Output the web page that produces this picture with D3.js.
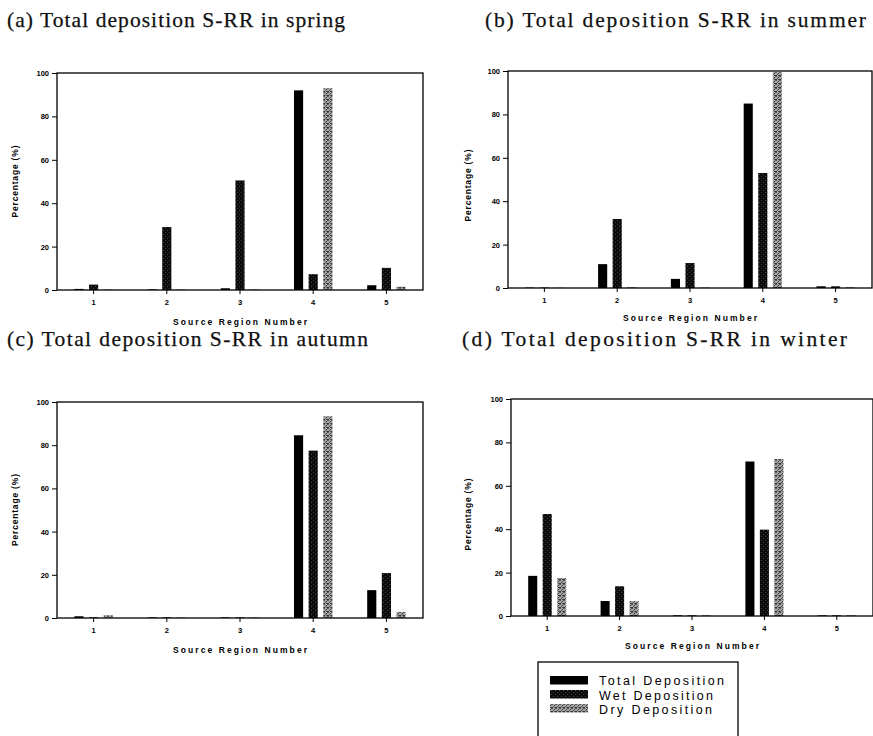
<!DOCTYPE html>
<html>
<head>
<meta charset="utf-8">
<script src="https://cdn.jsdelivr.net/npm/d3@7"></script>
<style>
  html, body { margin: 0; padding: 0; background: #fff; }
  svg { display: block; }
</style>
</head>
<body>
<svg width="873" height="736"></svg>
<script>
// categories and series
var regions = ['1', '2', '3', '4', '5'];
var seriesNames = ['Total Deposition', 'Wet Deposition', 'Dry Deposition'];
var yTicks = [0, 20, 40, 60, 80, 100];

// values (%)
var springTotal = [0.5, 0.3, 0.8, 92, 2.2];
var springWet   = [2.5, 29, 50.5, 7.3, 10.2];
var springDry   = [0.3, 0.3, 0.3, 93, 1.5];

var summerTotal = [0.2, 11, 4.2, 85, 0.8];
var summerWet   = [0.2, 31.8, 11.5, 53, 0.8];
var summerDry   = [0.1, 0.3, 0.2, 99.5, 0.3];

var autumnTotal = [0.8, 0.3, 0.3, 84.6, 12.9];
var autumnWet   = [0.3, 0.3, 0.3, 77.5, 20.8];
var autumnDry   = [1.2, 0.3, 0.3, 93.4, 2.8];

var winterTotal = [18.5, 6.9, 0.3, 71.2, 0.3];
var winterWet   = [47, 13.7, 0.3, 39.8, 0.3];
var winterDry   = [17.5, 6.9, 0.3, 72.3, 0.3];

var svg = d3.select('svg');

// textured fills, like the scanned print
var defs = svg.append('defs');
var pw = defs.append('pattern').attr('id', 'wetFill').attr('width', 4).attr('height', 4)
  .attr('patternUnits', 'userSpaceOnUse');
pw.append('rect').attr('width', 4).attr('height', 4).attr('fill', '#0c0c0c');
pw.append('rect').attr('x', 1).attr('y', 0).attr('width', 1).attr('height', 1).attr('fill', '#3c3c3c');
pw.append('rect').attr('x', 3).attr('y', 2).attr('width', 1).attr('height', 1).attr('fill', '#444');

var pd = defs.append('pattern').attr('id', 'dryFill').attr('width', 4).attr('height', 4)
  .attr('patternUnits', 'userSpaceOnUse');
pd.append('rect').attr('width', 4).attr('height', 4).attr('fill', '#a6a6a6');
[[0,0],[2,1],[1,2],[3,3],[3,0],[0,3],[2,3]].forEach(function(p, i) {
  pd.append('rect').attr('x', p[0]).attr('y', p[1]).attr('width', 1).attr('height', 1)
    .attr('fill', i % 2 ? '#333' : '#5a5a5a');
});

var fills = ['#000', 'url(#wetFill)', 'url(#dryFill)'];

var panels = [
  { title: '(a) Total deposition S-RR in spring', tx: 7, ty: 27, tw: 338,
    box: [57, 73, 423, 290], xlabY: 325, ylabX: 15, ylabDy: 0,
    data: [springTotal, springWet, springDry] },
  { title: '(b) Total deposition S-RR in summer', tx: 485, ty: 27, tw: 381,
    box: [508, 71, 872, 288], xlabY: 321, ylabX: 468, ylabDy: 6,
    data: [summerTotal, summerWet, summerDry] },
  { title: '(c) Total deposition S-RR in autumn', tx: 7, ty: 346, tw: 361,
    box: [57, 402, 423, 618], xlabY: 653, ylabX: 15, ylabDy: 0,
    data: [autumnTotal, autumnWet, autumnDry] },
  { title: '(d) Total deposition S-RR in winter', tx: 462, ty: 346, tw: 385,
    box: [511, 399, 873, 616], xlabY: 649, ylabX: 468, ylabDy: 7,
    data: [winterTotal, winterWet, winterDry] }
];

panels.forEach(function(p) {
  var x0 = p.box[0], y0 = p.box[1], x1 = p.box[2], y1 = p.box[3];

  svg.append('text').attr('x', p.tx).attr('y', p.ty)
    .attr('font-family', 'Liberation Serif, DejaVu Serif, serif').attr('font-size', 21.5)
    .attr('textLength', p.tw).attr('lengthAdjust', 'spacing')
    .attr('stroke', '#111').attr('stroke-width', 0.25)
    .attr('fill', '#111').text(p.title);

  var x = d3.scaleBand().domain(regions).range([x0, x1]).padding(0);
  var off = d3.scalePoint().domain(seriesNames).range([-0.2 * x.bandwidth(), 0.2 * x.bandwidth()]);
  var y = d3.scaleLinear().domain([0, 100]).range([y1, y0]);
  var bw = x.bandwidth() * 0.125;

  var g = svg.append('g');

  // bars
  p.data.forEach(function(vals, si) {
    g.selectAll(null).data(vals).enter().append('rect')
      .attr('x', function(d, i) { return x(regions[i]) + x.bandwidth() / 2 + off(seriesNames[si]) - bw / 2; })
      .attr('y', function(d) { return y(d); })
      .attr('width', bw)
      .attr('height', function(d) { return y(0) - y(d); })
      .attr('fill', fills[si]);
  });

  // frame
  g.append('rect').attr('x', x0).attr('y', y0).attr('width', x1 - x0).attr('height', y1 - y0)
    .attr('fill', 'none').attr('stroke', '#000').attr('stroke-width', 1.3);

  var ya = g.append('g').attr('transform', 'translate(' + x0 + ',0)')
    .call(d3.axisLeft(y).tickValues(yTicks).tickSize(5).tickPadding(3));
  ya.select('.domain').remove();
  ya.selectAll('text').attr('font-family', 'Liberation Sans, Arial, sans-serif')
    .attr('font-weight', 'bold').attr('font-size', 7.5).attr('fill', '#000');

  var xa = g.append('g').attr('transform', 'translate(0,' + y1 + ')')
    .call(d3.axisBottom(x).tickSize(4).tickPadding(6));
  xa.select('.domain').remove();
  xa.selectAll('text').attr('font-family', 'Liberation Sans, Arial, sans-serif')
    .attr('font-weight', 'bold').attr('font-size', 7.5).attr('fill', '#000');

  g.append('text').attr('x', (x0 + x1) / 2).attr('y', p.xlabY).attr('text-anchor', 'middle')
    .attr('font-family', 'Liberation Sans, Arial, sans-serif').attr('font-weight', 'bold')
    .attr('font-size', 8.5).attr('textLength', 134).attr('lengthAdjust', 'spacing')
    .text('Source Region Number');

  var cy = (y0 + y1) / 2 + p.ylabDy;
  g.append('text').attr('transform', 'translate(' + (p.ylabX + 3) + ',' + cy + ') rotate(-90)')
    .attr('text-anchor', 'middle')
    .attr('font-family', 'Liberation Sans, Arial, sans-serif').attr('font-weight', 'bold')
    .attr('font-size', 8.5).attr('textLength', 72).attr('lengthAdjust', 'spacing')
    .text('Percentage (%)');
});

// legend
var lg = svg.append('g');
lg.append('rect').attr('x', 538).attr('y', 662).attr('width', 200).attr('height', 90)
  .attr('fill', '#fff').attr('stroke', '#000').attr('stroke-width', 1.3);
var legendWidths = [125, 114, 113];
seriesNames.forEach(function(name, i) {
  lg.append('rect').attr('x', 550).attr('y', 676 + i * 14).attr('width', 38).attr('height', 8.5)
    .attr('fill', fills[i]);
  lg.append('text').attr('x', 599).attr('y', 685 + i * 14.5)
    .attr('font-family', 'Liberation Sans, Arial, sans-serif').attr('font-size', 12.5)
    .attr('textLength', legendWidths[i]).attr('lengthAdjust', 'spacing')
    .attr('fill', '#000').text(name);
});
</script>
</body>
</html>
